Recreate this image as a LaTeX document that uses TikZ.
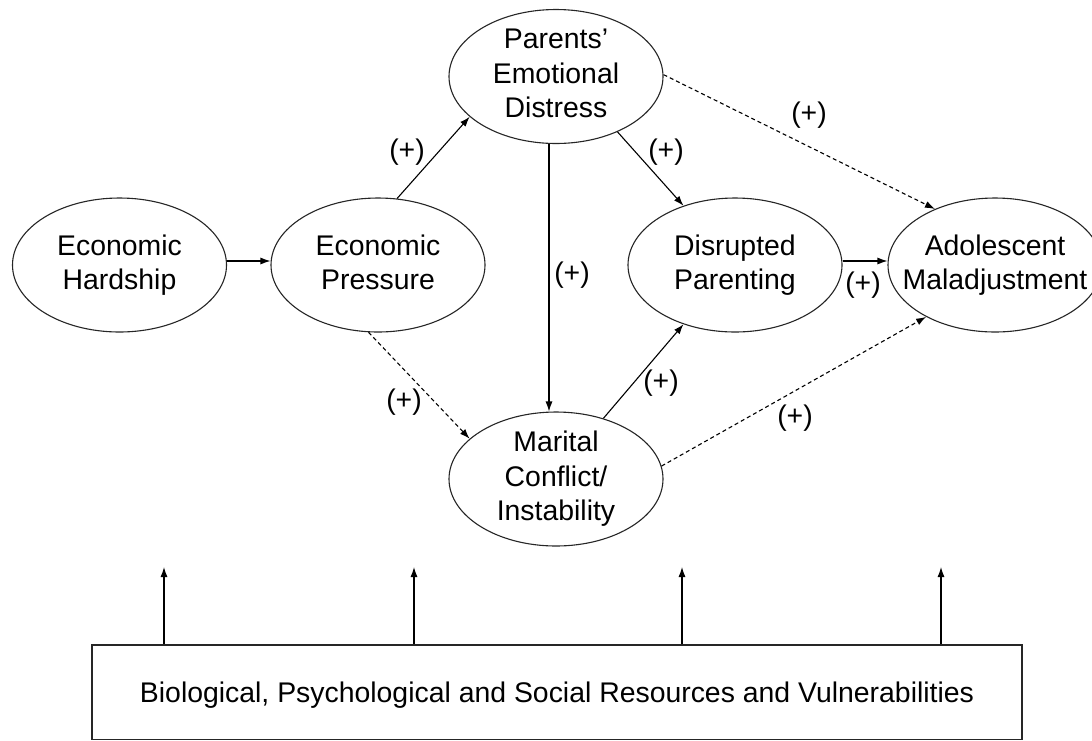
\documentclass[tikz,border=0pt]{standalone}
\usepackage{fontspec}
\setmainfont{Liberation Sans}
\usetikzlibrary{shapes.geometric,arrows.meta}
\begin{document}
\begin{tikzpicture}[x=1pt,y=-1pt,
  txt/.style={font=\fontsize{28.4}{34.5}\selectfont},
  ell/.style={ellipse,draw=black!85,line width=1.1pt,minimum width=214pt,minimum height=134pt,
    inner sep=-20pt,align=center,txt},
  link/.style={line width=1.1pt,-{Latex[length=10pt,width=7pt]}},
  dlink/.style={link,dash pattern=on 4pt off 3pt},
  sign/.style={txt,inner sep=0pt}]
\useasboundingbox (0,0) rectangle (1092,740);
\fill[white] (0,0) rectangle (1092,740);

% constructs (a phantom descender keeps the line positions alike)
\node[ell] (EH) at (119.5,265) {Economic\\Hardship\vphantom{p}};
\node[ell] (EP) at (378,265)   {Economic\\Pressure\vphantom{p}};
\node[ell] (PD) at (556,76.5)  {Parents'\\Emotional\\Distress\vphantom{p}};
\node[ell] (DP) at (735,265)   {Disrupted\\Parenting\vphantom{p}};
\node[ell] (AM) at (995,265)   {Adolescent\\Maladjustment\vphantom{p}};
\node[ell] (MC) at (556,479)   {Marital\\Conflict/\\Instability\vphantom{p}};

% moderators box
\node[draw=black!85,line width=1.1pt,minimum width=930pt,minimum height=94.5pt,
  text depth=0pt,txt] (B) at (557,692.25)
  {Biological, Psychological and Social Resources and Vulnerabilities};

% path signs
\node[sign] (s1) at (407,152) {(+)};
\node[sign] (s2) at (666,152) {(+)};
\node[sign] (s3) at (809,115) {(+)};
\node[sign] (s4) at (572,275) {(+)};
\node[sign] (s5) at (863,285) {(+)};
\node[sign] (s6) at (404,402) {(+)};
\node[sign] (s7) at (661,383) {(+)};
\node[sign] (s8) at (795,418) {(+)};

% paths
\draw[link] ([yshift=4pt]EH.east) -- ([yshift=4pt]EP.west);
\draw[link] (EP.74) -- (PD.205);
\draw[link] (PD.-42) -- (DP.131);
\draw[dlink] (PD.1) -- (AM.137);
\draw[link] ([xshift=-7pt]PD.south) -- ([xshift=-7pt]MC.north);
\draw[dlink] (EP.262) -- (MC.155);
\draw[link] (MC.52) -- (DP.229);
\draw[dlink] (MC.7) -- (AM.217);
\draw[link] ([yshift=4pt]DP.east) -- ([yshift=4pt]AM.west);

% moderating influences
\coordinate (u1) at (164,567);
\coordinate (u2) at (414,567);
\coordinate (u3) at (682,567);
\coordinate (u4) at (941,567);
\foreach \u in {u1,u2,u3,u4}
  \draw[link] (B.north -| \u) -- (\u);
\end{tikzpicture}
\end{document}
